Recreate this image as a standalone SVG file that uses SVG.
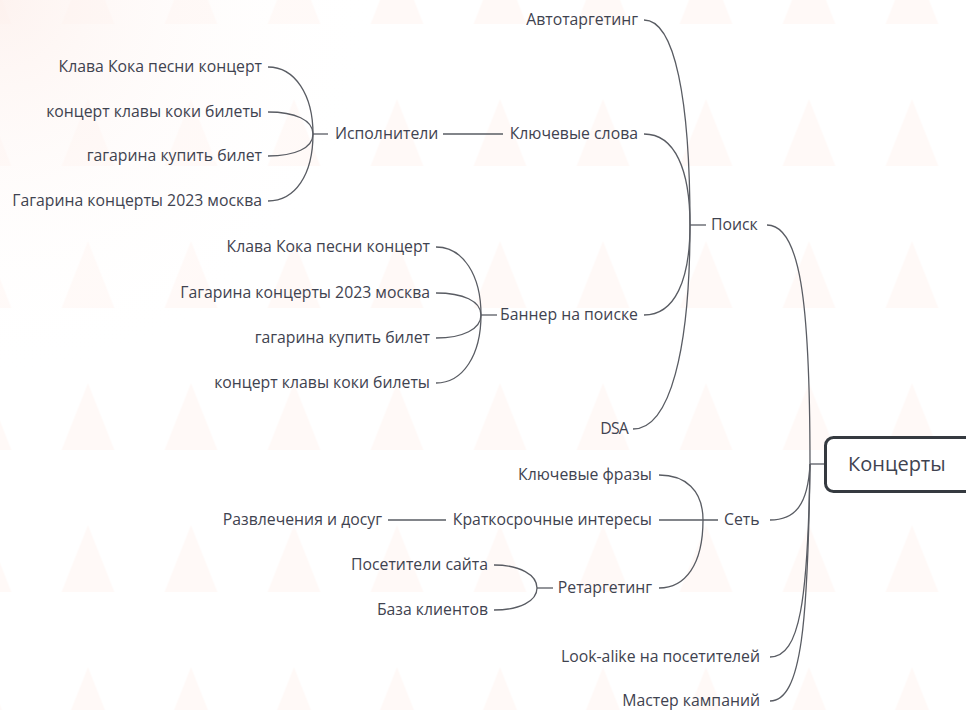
<svg xmlns="http://www.w3.org/2000/svg" width="966" height="710" viewBox="0 0 966 710">
<defs>
<pattern id="tri" patternUnits="userSpaceOnUse" x="36.5" y="-43" width="103" height="142">
<polygon points="51.5,0 25,67 78,67" fill="#fff9f7"/>
</pattern>
<radialGradient id="glow" cx="0" cy="0" r="380" gradientUnits="userSpaceOnUse">
<stop offset="0" stop-color="#fdf0ec" stop-opacity="0.8"/>
<stop offset="1" stop-color="#ffffff" stop-opacity="0"/>
</radialGradient>
<style>
.t{font-family:"Open Sans","Noto Sans",sans-serif;font-size:15.8px;fill:#3f4350}
.e{text-anchor:end}
.c{fill:none;stroke:#595c63;stroke-width:1.3}
.root{fill:#ffffff;stroke:#353a40;stroke-width:3}
.rt{font-family:"Open Sans","Noto Sans",sans-serif;font-size:20px;fill:#3f4350}
</style>
</defs>
<rect width="966" height="710" fill="#ffffff"/>
<rect width="966" height="710" fill="url(#tri)"/>
<rect width="966" height="710" fill="url(#glow)"/>

<g id="connectors">
<path class="c" d="M825,464 H810"/>
<path class="c" d="M810,464 C810,300 800,225 767,225"/>
<path class="c" d="M810,464 C808,505 795,520 770,520"/>
<path class="c" d="M810,464 C808,600 800,657 770,657"/>
<path class="c" d="M810,464 C808,620 802,701 770,701"/>

<path class="c" d="M690,225 H706"/>
<path class="c" d="M690,225 C690,100 675,20 644,20"/>
<path class="c" d="M690,225 C690,170 675,134 644,134"/>
<path class="c" d="M690,225 C690,280 675,315 644,315"/>
<path class="c" d="M690,225 C690,350 670,429 633,429"/>

<path class="c" d="M443,134 H503"/>
<path class="c" d="M313,134 H328"/>
<path class="c" d="M313,134 C313,95 295,67 268,67"/>
<path class="c" d="M313,134 C313,120 295,112 268,112"/>
<path class="c" d="M313,134 C313,148 295,156 268,156"/>
<path class="c" d="M313,134 C313,175 295,201 268,201"/>

<path class="c" d="M481,315 H497"/>
<path class="c" d="M481,315 C481,275 463,247 436,247"/>
<path class="c" d="M481,315 C481,301 463,293 436,293"/>
<path class="c" d="M481,315 C481,329 463,338 436,338"/>
<path class="c" d="M481,315 C481,355 463,383 436,383"/>

<path class="c" d="M659,520 H718"/>
<path class="c" d="M703,520 C703,490 685,475 659,475"/>
<path class="c" d="M703,520 C703,565 685,588 659,588"/>
<path class="c" d="M388,520 H446"/>

<path class="c" d="M537,588 H553"/>
<path class="c" d="M537,588 C537,575 520,565 494,565"/>
<path class="c" d="M537,588 C537,601 520,610 494,610"/>
</g>

<g id="root">
<rect class="root" x="825.5" y="437.5" width="150" height="54" rx="8"/>
<text class="rt" x="848" y="471">Концерты</text>
</g>
<g id="poisk"><text class="t" x="711" y="230">Поиск</text></g>
<g id="set"><text class="t" x="724" y="525">Сеть</text></g>
<g id="lookalike"><text class="t e" x="760" y="662">Look-alike на посетителей</text></g>
<g id="master"><text class="t e" x="760" y="706">Мастер кампаний</text></g>

<g id="avtotargeting"><text class="t e" x="638" y="25">Автотаргетинг</text></g>
<g id="klyuchevye-slova"><text class="t e" x="638" y="139">Ключевые слова</text></g>
<g id="banner"><text class="t e" x="638" y="320">Баннер на поиске</text></g>
<g id="dsa"><text class="t e" x="628" y="434" style="letter-spacing:-0.8px">DSA</text></g>

<g id="ispolniteli"><text class="t" x="335" y="139">Исполнители</text></g>
<g id="isp-1"><text class="t e" x="262" y="72">Клава Кока песни концерт</text></g>
<g id="isp-2"><text class="t e" x="262" y="117">концерт клавы коки билеты</text></g>
<g id="isp-3"><text class="t e" x="262" y="161">гагарина купить билет</text></g>
<g id="isp-4"><text class="t e" x="262" y="206">Гагарина концерты 2023 москва</text></g>

<g id="ban-1"><text class="t e" x="430" y="252">Клава Кока песни концерт</text></g>
<g id="ban-2"><text class="t e" x="430" y="298">Гагарина концерты 2023 москва</text></g>
<g id="ban-3"><text class="t e" x="430" y="343">гагарина купить билет</text></g>
<g id="ban-4"><text class="t e" x="430" y="388">концерт клавы коки билеты</text></g>

<g id="klyuchevye-frazy"><text class="t e" x="652" y="480">Ключевые фразы</text></g>
<g id="kratkosrochnye"><text class="t e" x="652" y="525">Краткосрочные интересы</text></g>
<g id="retargeting"><text class="t e" x="652" y="593">Ретаргетинг</text></g>
<g id="razvlecheniya"><text class="t e" x="382" y="525">Развлечения и досуг</text></g>
<g id="posetiteli"><text class="t e" x="488" y="570">Посетители сайта</text></g>
<g id="baza"><text class="t e" x="488" y="615">База клиентов</text></g>
</svg>
